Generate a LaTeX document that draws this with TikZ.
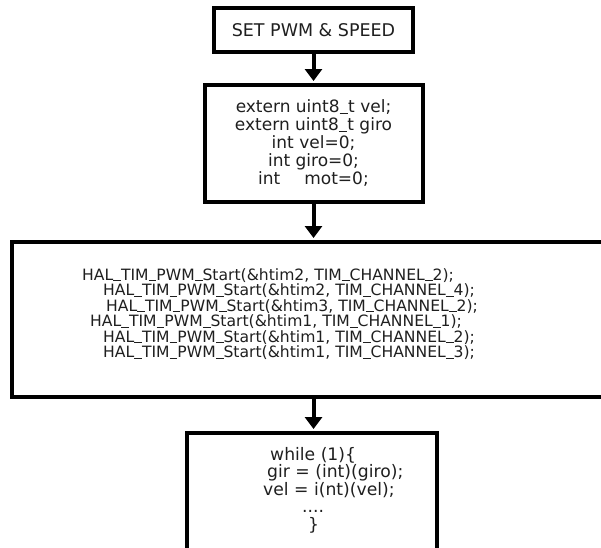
\documentclass[tikz,border=0pt]{standalone}
\usepackage{fontspec}
\setmainfont{DejaVu Sans}
\usetikzlibrary{arrows.meta}
\newcommand{\us}{\rule[-1.3pt]{0.5em}{0.07em}}
\begin{document}
\begin{tikzpicture}[x=1pt,y=-1pt,
  box/.style={draw, line width=4pt, inner sep=0pt},
  arr/.style={line width=4pt, -{Triangle[width=17pt,length=12pt]}, shorten >=2pt},
  txt/.style={inner sep=0pt, text=black!88}]
\useasboundingbox (0,0) rectangle (601,547);
\clip (0,0) rectangle (601,547);
\node[box, minimum width=199pt, minimum height=44pt, txt,
      font=\fontsize{17.5}{18}\selectfont] (b1) at (313.5,30) {SET PWM \& SPEED};
\node[box, minimum width=218pt, minimum height=117pt, txt, align=center,
      font=\fontsize{17}{18}\selectfont] (b2) at (313.5,143.5)
  {extern uint8\us t vel;\\extern uint8\us t giro\\int vel=0;\\int giro=0;\\int\hspace{24pt}mot=0;};
\node[box, minimum width=598pt, minimum height=155pt] (b3) at (311,319.5) {};
\node[txt, anchor=west, align=left, font=\fontsize{15.6}{15.5}\selectfont] (t3) at (82,314)
  {HAL\us TIM\us PWM\us Start(\&htim2, TIM\us CHANNEL\us 2);\\
   \hspace*{21pt}HAL\us TIM\us PWM\us Start(\&htim2, TIM\us CHANNEL\us 4);\\
   \hspace*{24pt}HAL\us TIM\us PWM\us Start(\&htim3, TIM\us CHANNEL\us 2);\\
   \hspace*{8pt}HAL\us TIM\us PWM\us Start(\&htim1, TIM\us CHANNEL\us 1);\\
   \hspace*{21pt}HAL\us TIM\us PWM\us Start(\&htim1, TIM\us CHANNEL\us 2);\\
   \hspace*{21pt}HAL\us TIM\us PWM\us Start(\&htim1, TIM\us CHANNEL\us 3);};
\node[box, minimum width=250pt, minimum height=127pt] (b4) at (312,496.5) {};
\node[txt, anchor=west, align=left, font=\fontsize{17.2}{17.5}\selectfont] (t4) at (263,490)
  {\hspace*{7pt}while (1)\{\\
   \hspace*{4pt}gir = (int)(giro);\\
   vel = i(nt)(vel);\\
   \hspace*{39pt}....\\
   \hspace*{45pt}\}};
\draw[arr] (b1.south) -- (b2.north);
\draw[arr] (b2.south) -- (b2.south |- b3.north);
\draw[arr] (b2.south |- b3.south) -- (b2.south |- b4.north);
\end{tikzpicture}
\end{document}
